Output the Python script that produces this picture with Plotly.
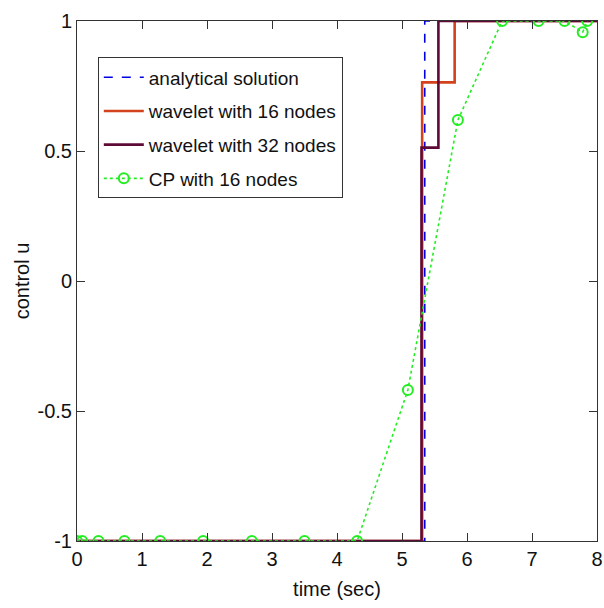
import plotly.graph_objects as go

# Switching time of the analytical bang-bang control
analytic_t = [0.0, 5.35, 5.35, 8.0]
analytic_u = [-1.0, -1.0, 1.0, 1.0]

# Piecewise-constant wavelet controls (value holds until next time)
wav16_t = [0.0, 5.31, 5.81, 8.0]
wav16_u = [-1.0, 0.764, 1.0, 1.0]

wav32_t = [0.0, 5.30, 5.56, 8.0]
wav32_u = [-1.0, 0.513, 1.0, 1.0]

# Collocation (CP) nodes and control values
cp_t = [0.0, 0.08, 0.33, 0.73, 1.28, 1.94, 2.69, 3.50, 4.31,
        5.09, 5.86, 6.54, 7.10, 7.50, 7.78, 7.85]
cp_u = [-1.0, -1.0, -1.0, -1.0, -1.0, -1.0, -1.0, -1.0, -1.0,
        -0.419, 0.619, 1.0, 1.0, 1.0, 0.957, 1.0]

x_ticks = [0, 1, 2, 3, 4, 5, 6, 7, 8]
y_ticks = [-1, -0.5, 0, 0.5, 1]
y_tick_text = ["-1", "-0.5", "0", "0.5", "1"]

FONT = "Liberation Sans, Arial, Helvetica, sans-serif"
INK = "#111111"

fig = go.Figure()

fig.add_trace(go.Scatter(
    x=analytic_t, y=analytic_u, mode="lines", name="analytical solution",
    legendgroup="a",
    line=dict(color="#0000e6", width=1.6, dash="dash"),
))
fig.add_trace(go.Scatter(
    x=wav16_t, y=wav16_u, mode="lines", name="wavelet with 16 nodes",
    legendgroup="b",
    line=dict(color="#d2421c", width=2.6, shape="hv"),
))
fig.add_trace(go.Scatter(
    x=wav32_t, y=wav32_u, mode="lines", name="wavelet with 32 nodes",
    legendgroup="c",
    line=dict(color="#5e0a37", width=2.6, shape="hv"),
))
fig.add_trace(go.Scatter(
    x=cp_t, y=cp_u, mode="lines+markers", name="CP with 16 nodes",
    legendgroup="d",
    line=dict(color="#22ee22", width=1.6, dash="dot"),
    marker=dict(symbol="circle-open", size=10, color="#22ee22",
                line=dict(width=2, color="#22ee22")),
))

axis_common = dict(
    showline=True, linecolor="#333333", linewidth=1, mirror="ticks",
    ticks="inside", ticklen=8, tickcolor="#333333", tickwidth=1,
    showgrid=False, zeroline=False, automargin=False,
    tickfont=dict(family=FONT, size=20, color=INK),
)

fig.update_xaxes(
    range=[0, 8], tickvals=x_ticks,
    title=dict(text="time (sec)", font=dict(family=FONT, size=20, color=INK),
               standoff=12),
    **axis_common,
)
fig.update_yaxes(
    range=[-1, 1], tickvals=y_ticks, ticktext=y_tick_text,
    title=dict(text="control u", font=dict(family=FONT, size=20, color=INK),
               standoff=2),
    **axis_common,
)

fig.update_layout(
    width=604, height=608,
    margin=dict(l=77, r=7, t=21, b=67),
    paper_bgcolor="white", plot_bgcolor="white",
    font=dict(family=FONT, size=20, color=INK),
    legend=dict(
        x=0.04, y=0.93, xanchor="left", yanchor="top",
        bgcolor="white", bordercolor="#333333", borderwidth=1,
        font=dict(family=FONT, size=19, color=INK),
        itemwidth=40, tracegroupgap=6,
    ),
)

fig.write_html("out.html")
